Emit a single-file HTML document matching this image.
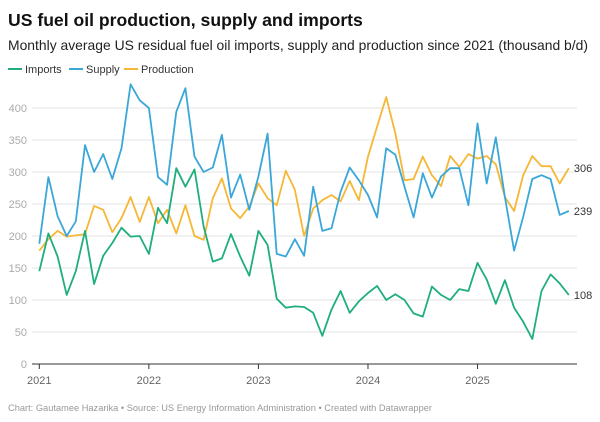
<!DOCTYPE html>
<html><head><meta charset="utf-8">
<style>
body{margin:0;background:#fff;font-family:"Liberation Sans",sans-serif;}
#wrap{position:relative;width:600px;height:422px;overflow:hidden;}
svg text{font-family:"Liberation Sans",sans-serif;}
</style></head>
<body>
<div id="wrap">
<svg id="chart" width="600" height="422">
<text x="8" y="26" font-size="17.6" font-weight="bold" fill="#111">US fuel oil production, supply and imports</text>
<text x="8" y="50" font-size="13.8" fill="#222" textLength="580" lengthAdjust="spacingAndGlyphs">Monthly average US residual fuel oil imports, supply and production since 2021 (thousand b/d)</text>
<g>
<g><line x1="8" x2="22" y1="69" y2="69" stroke="#1fae7c" stroke-width="2"/><text x="25" y="73" font-size="11" fill="#333">Imports</text></g>
<g><line x1="69" x2="83" y1="69" y2="69" stroke="#3aa7d8" stroke-width="2"/><text x="86" y="73" font-size="11" fill="#333">Supply</text></g>
<g><line x1="124" x2="138" y1="69" y2="69" stroke="#f5b735" stroke-width="2"/><text x="141" y="73" font-size="11" fill="#333">Production</text></g>
</g>
<g id="grid"></g>
<g id="yaxis"></g>
<g id="xaxis"></g>
<g id="series"></g>
<text x="8" y="411" font-size="9.5" fill="#999" textLength="424" lengthAdjust="spacingAndGlyphs">Chart: Gautamee Hazarika • Source: US Energy Information Administration  • Created with Datawrapper</text>
</svg>
</div>
<script>
const yTicks=[0,50,100,150,200,250,300,350,400];
const xYears=["2021","2022","2023","2024","2025"];
const imports=[145,204,168,108,145,208,125,169,189,213,199,200,172,244,220,306,277,304,215,160,165,203,168,138,208,186,102,88,90,89,80,44,85,114,80,98,111,122,100,109,100,79,74,121,108,100,117,114,158,132,94,131,88,66,39,114,140,126,108];
const supply=[188,292,231,200,223,342,300,328,289,337,437,412,400,292,280,394,431,324,300,307,358,260,296,241,293,360,172,168,195,169,277,208,212,269,307,287,264,229,337,327,277,229,298,260,293,306,306,248,376,282,354,261,177,230,289,295,289,233,239];
const production=[177,195,208,199,201,203,247,241,206,228,261,222,261,220,241,204,248,200,194,259,290,243,228,246,282,259,248,302,272,200,243,256,264,254,286,256,324,371,417,360,287,289,324,295,278,325,308,328,321,325,312,261,239,295,325,309,309,282,306];
const NS="http://www.w3.org/2000/svg";
const x0=39.3, monthW=9.13, yZero=364, pxPer=0.64;
function xScale(i){return x0+i*monthW;}
function yScale(v){return yZero-v*pxPer;}
const grid=document.getElementById('grid'), yax=document.getElementById('yaxis'), xax=document.getElementById('xaxis'), ser=document.getElementById('series');
yTicks.forEach(t=>{
  if(t>0){const l=document.createElementNS(NS,'line');
  l.setAttribute('x1',32);l.setAttribute('x2',577);l.setAttribute('y1',yScale(t));l.setAttribute('y2',yScale(t));
  l.setAttribute('stroke','#e3e3e3');l.setAttribute('stroke-width','1');
  
  
  grid.appendChild(l);}
  const tx=document.createElementNS(NS,'text');
  tx.setAttribute('x',27);tx.setAttribute('y',yScale(t)+4);tx.setAttribute('text-anchor','end');
  tx.setAttribute('font-size','11');tx.setAttribute('fill','#aaa');tx.textContent=t;
  
  
  yax.appendChild(tx);
});
const base=document.createElementNS(NS,'line');
base.setAttribute('x1',32);base.setAttribute('x2',577);base.setAttribute('y1',yZero);base.setAttribute('y2',yZero);
base.setAttribute('stroke','#333');base.setAttribute('stroke-width','1');


xax.appendChild(base);
xYears.forEach((y,k)=>{
  const x=xScale(k*12);
  const tk=document.createElementNS(NS,'line');
  tk.setAttribute('x1',x);tk.setAttribute('x2',x);tk.setAttribute('y1',yZero);tk.setAttribute('y2',yZero+5);
  tk.setAttribute('stroke','#333');
  
  
  xax.appendChild(tk);
  const tx=document.createElementNS(NS,'text');
  tx.setAttribute('x',x);tx.setAttribute('y',384);tx.setAttribute('text-anchor','middle');
  tx.setAttribute('font-size','11');tx.setAttribute('fill','#666');tx.textContent=y;
  
  
  xax.appendChild(tx);
});
function draw(arr,color,name){
  const p=document.createElementNS(NS,'polyline');
  p.setAttribute('points',arr.map((v,i)=>xScale(i).toFixed(1)+','+yScale(v).toFixed(1)).join(' '));
  p.setAttribute('fill','none');p.setAttribute('stroke',color);p.setAttribute('stroke-width','1.8');p.setAttribute('stroke-linejoin','round');
  
  
  ser.appendChild(p);
  const last=arr[arr.length-1];
  const t=document.createElementNS(NS,'text');
  t.setAttribute('x',xScale(arr.length-1)+5);t.setAttribute('y',yScale(last)+4);
  t.setAttribute('font-size','11');t.setAttribute('fill','#333');t.textContent=last;
  
  
  ser.appendChild(t);
}
draw(production,'#f5b735','production');
draw(supply,'#3aa7d8','supply');
draw(imports,'#1fae7c','imports');
</script>
</body></html>
